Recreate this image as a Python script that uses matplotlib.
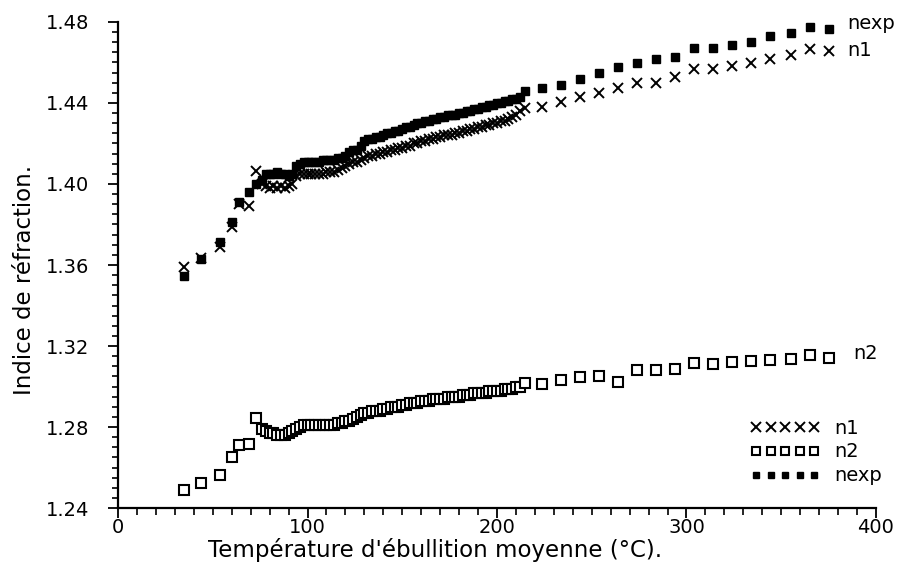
import matplotlib
matplotlib.use("Agg")
import matplotlib.pyplot as plt
from matplotlib.ticker import MultipleLocator, FormatStrFormatter

# Mean boiling temperature of each fraction (°C)
temperature = [
    35, 44, 54, 60, 64, 69, 73, 76,
    78, 80, 82, 84, 86, 88, 90, 92,
    94, 96, 98, 100, 102, 104, 106, 108, 110, 112, 114, 116,
    118, 120, 122, 124, 126, 128, 130,
    132, 134, 136, 138, 140, 142, 144, 146, 148, 150,
    152, 154, 156, 158, 160, 162, 164, 166, 168, 170,
    172, 174, 176, 178, 180, 182, 184, 186, 188, 190,
    192, 194, 196, 198, 200, 202, 204, 206, 208, 210, 212,
    215, 224, 234, 244, 254, 264, 274, 284, 294, 304, 314, 324, 334, 344, 355, 365, 375,
]

# Computed refractive index, model 1
n1 = [
    1.359, 1.3635, 1.369, 1.379, 1.390, 1.389, 1.4066, 1.400,
    1.399, 1.398, 1.399, 1.398, 1.399, 1.398, 1.399, 1.400,
    1.404, 1.405, 1.405, 1.405, 1.405, 1.405, 1.405, 1.405, 1.406, 1.406, 1.406, 1.407,
    1.408, 1.409, 1.410, 1.411, 1.411, 1.412, 1.413,
    1.414, 1.414, 1.415, 1.415, 1.416, 1.416, 1.417, 1.417, 1.418, 1.418,
    1.419, 1.419, 1.420, 1.420, 1.421, 1.421, 1.422, 1.422, 1.423, 1.423,
    1.424, 1.424, 1.424, 1.425, 1.425, 1.426, 1.426, 1.427, 1.427, 1.428,
    1.428, 1.429, 1.429, 1.430, 1.430, 1.431, 1.431, 1.432, 1.433, 1.434, 1.436,
    1.4374, 1.4382, 1.4403, 1.4428, 1.4448, 1.4472, 1.4500, 1.4500, 1.4527,
    1.4566, 1.4566, 1.4583, 1.4599, 1.4616, 1.4637, 1.4665, 1.4658,
]

# Computed refractive index, model 2
n2 = [
    1.249, 1.2525, 1.2565, 1.265, 1.271, 1.2715, 1.2845, 1.279,
    1.278, 1.277, 1.277, 1.276, 1.276, 1.276, 1.277, 1.278,
    1.279, 1.280, 1.281, 1.281, 1.281, 1.281, 1.281, 1.281, 1.281, 1.281, 1.281, 1.282,
    1.282, 1.283, 1.283, 1.284, 1.285, 1.286, 1.287,
    1.287, 1.288, 1.288, 1.288, 1.289, 1.289, 1.290, 1.290, 1.290, 1.291,
    1.291, 1.292, 1.292, 1.292, 1.293, 1.293, 1.293, 1.294, 1.294, 1.294,
    1.294, 1.295, 1.295, 1.295, 1.295, 1.296, 1.296, 1.296, 1.297, 1.297,
    1.297, 1.297, 1.298, 1.298, 1.298, 1.298, 1.299, 1.299, 1.299, 1.300, 1.300,
    1.3019, 1.3011, 1.3032, 1.3045, 1.3052, 1.3024, 1.3081, 1.3081, 1.3085,
    1.3118, 1.3111, 1.3122, 1.3127, 1.3131, 1.3134, 1.3156, 1.3139,
]

# Measured refractive index
nexp = [
    1.3545, 1.3628, 1.3715, 1.381, 1.391, 1.396, 1.400, 1.402,
    1.405, 1.405, 1.405, 1.406, 1.405, 1.405, 1.404, 1.405,
    1.409, 1.410, 1.411, 1.411, 1.411, 1.411, 1.411, 1.412, 1.412, 1.412, 1.412, 1.413,
    1.413, 1.414, 1.416, 1.417, 1.417, 1.419, 1.421,
    1.422, 1.422, 1.423, 1.423, 1.424, 1.425, 1.425, 1.426, 1.426, 1.427,
    1.428, 1.428, 1.429, 1.430, 1.430, 1.431, 1.431, 1.432, 1.432, 1.433,
    1.433, 1.434, 1.434, 1.434, 1.435, 1.435, 1.436, 1.436, 1.437, 1.437,
    1.438, 1.438, 1.439, 1.439, 1.440, 1.440, 1.441, 1.441, 1.442, 1.442, 1.443,
    1.4461, 1.4472, 1.4489, 1.4517, 1.4550, 1.4579, 1.4599, 1.4616, 1.4626,
    1.4670, 1.4670, 1.4686, 1.4703, 1.4731, 1.4747, 1.4777, 1.4764,
]

series_labels = ["n1", "n2", "nexp"]

plt.rcParams["font.family"] = ["DejaVu Sans"]
plt.rcParams["font.size"] = 13

fig = plt.figure(figsize=(8.99, 5.83), dpi=100)
ax = fig.add_axes([0.1313, 0.1286, 0.8431, 0.8337])

h1, = ax.plot(temperature, n1, linestyle="none", marker="x", ms=7.5, mew=1.4,
              color="black", label=series_labels[0])
h3, = ax.plot(temperature, nexp, linestyle="none", marker="s", ms=5.5, mew=1.0,
              color="black", mfc="black", label=series_labels[2])
h2, = ax.plot(temperature, n2, linestyle="none", marker="s", ms=7, mew=1.5,
              color="black", mfc="white", label=series_labels[1])

# Curve names at the right-hand end of each series
ax.text(385, nexp[-1] + 0.003, series_labels[2], ha="left", va="center", fontsize=14)
ax.text(385, n1[-1], series_labels[0], ha="left", va="center", fontsize=14)
ax.text(388, n2[-1] + 0.0025, series_labels[1], ha="left", va="center", fontsize=14)

ax.set_xlim(0, 400)
ax.set_ylim(1.24, 1.48)

ax.xaxis.set_major_locator(MultipleLocator(100))
ax.xaxis.set_minor_locator(MultipleLocator(10))
ax.yaxis.set_major_locator(MultipleLocator(0.04))
ax.yaxis.set_minor_locator(MultipleLocator(0.005))
ax.yaxis.set_major_formatter(FormatStrFormatter("%.2f"))

for side in ("top", "right"):
    ax.spines[side].set_visible(False)
for side in ("left", "bottom"):
    ax.spines[side].set_linewidth(1.6)

ax.tick_params(axis="x", which="major", direction="out", length=7, width=1.3,
               pad=0, labelsize=14)
ax.tick_params(axis="x", which="minor", direction="out", length=5, width=1.2)
ax.tick_params(axis="y", which="major", direction="out", length=7, width=1.3,
               pad=14, labelsize=14)
ax.tick_params(axis="y", which="minor", direction="out", length=4, width=1.2)

ax.set_xlabel("Température d'ébullition moyenne (°C).", fontsize=16.5)
ax.xaxis.set_label_coords(0.418, -0.062)
ax.set_ylabel("Indice de réfraction.", fontsize=16.5)
ax.yaxis.set_label_coords(-0.108, 0.47)

ax.legend(handles=[h1, h2, h3], loc="upper left", bbox_to_anchor=(0.834, 0.184),
          numpoints=5, handlelength=3.6, handletextpad=0.7, labelspacing=0.25,
          frameon=False, borderpad=0, borderaxespad=0, fontsize=14, markerscale=0.9)

fig.savefig("out.png", dpi=100)
